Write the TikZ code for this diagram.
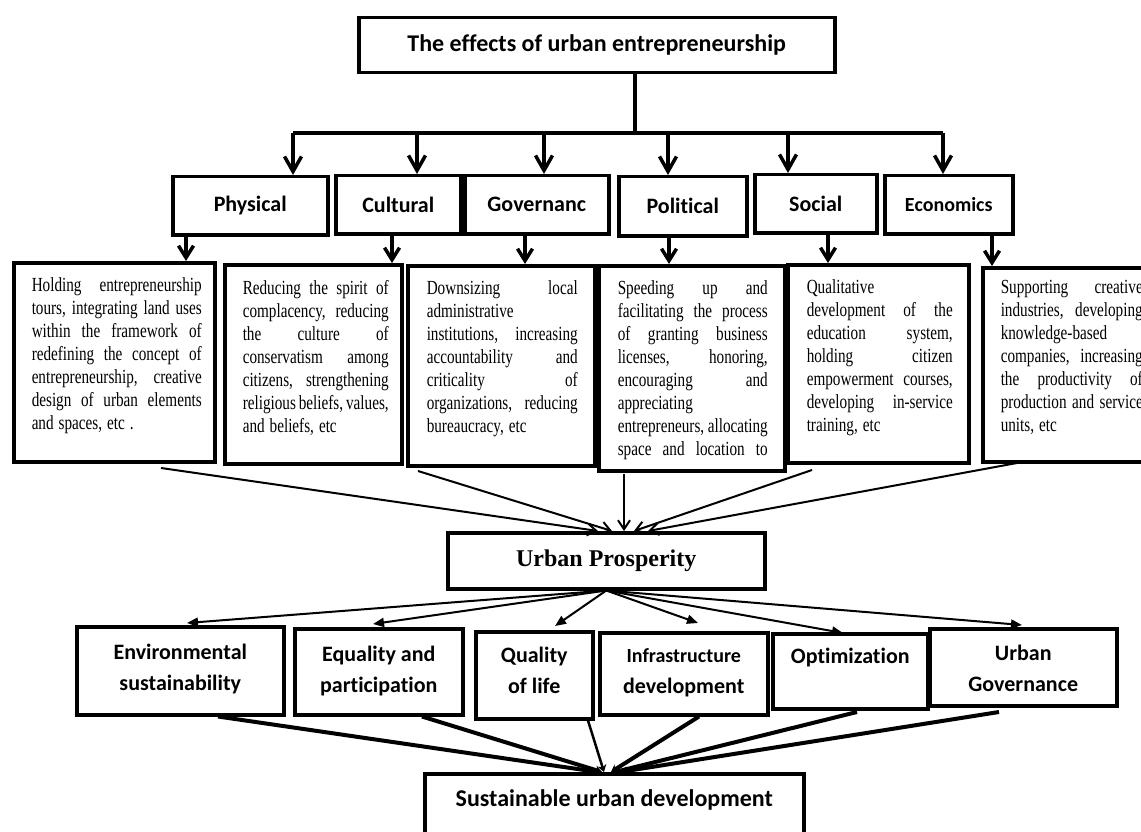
\documentclass[tikz,border=0pt]{standalone}
\usepackage{fontspec}
\usetikzlibrary{arrows.meta}
\newfontfamily\hfont[Ligatures=NoCommon]{Carlito}
\newfontfamily\dfont[FakeStretch=0.76]{Liberation Serif}
\newfontfamily\pfont{Liberation Serif}
\newdimen\dM \newdimen\dT \newdimen\bW
\newcommand\jl[1]{\moveright\dM\hbox to\dT{\vrule height15pt depth6pt width0pt\spaceskip=0.25em plus 1fil minus 0.15em\relax #1}}
\newcommand\el[1]{\moveright\dM\hbox to\dT{\vrule height15pt depth6pt width0pt\spaceskip=0.25em minus 0.1em\relax #1\hfill}}
\newcommand\cl[1]{\hbox to\bW{\hss\vrule height16pt depth6pt width0pt #1\hss}}
\newcommand\dbody[6]{\vbox to #2{\hrule height0pt depth0pt width#1\relax\dM=#4\relax\dT=#5\relax\vskip#3\relax #6\vss}}
\newcommand\cbody[4]{\vbox to #2{\hrule height0pt depth0pt width#1\relax\bW=#1\relax\vskip#3\relax #4\vss}}
\begin{document}
\begin{tikzpicture}[x=1pt,y=-1pt,
  bx/.style={draw, line width=3.5pt, inner sep=0pt, anchor=north west},
  catbox/.style={bx, font=\hfont\bfseries\fontsize{22}{26}\selectfont},
  dstyle/.style={bx, font=\dfont\fontsize{20}{23}\selectfont\frenchspacing},
  lstyle/.style={bx, font=\hfont\bfseries\fontsize{22}{31}\selectfont},
  conn/.style={line width=3.5pt},
  tarrow/.style={line width=3.5pt, -{Straight Barb[length=15pt,width=17pt]}},
  tarrowb/.style={line width=3.5pt, -{Straight Barb[length=12pt,width=15pt]}},
  parrow/.style={line width=2pt, -{Straight Barb[length=9pt,width=12pt]}},
  larrow/.style={line width=2pt, -{Triangle[length=11pt,width=9pt]}},
  sline/.style={line width=4pt, -{Stealth[length=7pt,width=9pt]}}]
\useasboundingbox (0,0) rectangle (1141,832);

% top
\node[catbox, font=\hfont\bfseries\fontsize{24}{28}\selectfont, minimum width=476pt, minimum height=55pt] (top) at (357,16) {The effects of urban entrepreneurship};

% categories
\node[catbox, minimum width=155pt, minimum height=58pt] (phys) at (171,175) {Physical};
\node[catbox, minimum width=125pt, minimum height=58pt] (cult) at (334,174) {Cultural};
\node[catbox, minimum width=144pt, minimum height=58pt] (gov) at (463,174) {Governanc};
\node[catbox, minimum width=128pt, minimum height=59pt] (pol) at (617,175) {Political};
\node[catbox, minimum width=122pt, minimum height=58pt] (soc) at (753,173) {Social};
\node[catbox, minimum width=128pt, minimum height=58pt, font=\hfont\bfseries\fontsize{20}{24}\selectfont] (eco) at (883,174) {Economics};

% detail boxes
\node[dstyle] (d1) at (12,261) {\dbody{201pt}{199pt}{14pt}{18pt}{170pt}{%
\jl{Holding entrepreneurship}
\jl{tours, integrating land uses}
\jl{within the framework of}
\jl{redefining the concept of}
\jl{entrepreneurship, creative}
\jl{design of urban elements}
\el{and spaces, etc .}}};
\node[dstyle] (d2) at (223,263) {\dbody{177pt}{199pt}{15pt}{18pt}{146pt}{%
\jl{Reducing the spirit of}
\jl{complacency, reducing}
\jl{the culture of}
\jl{conservatism among}
\jl{citizens, strengthening}
\jl{religious beliefs, values,}
\el{and beliefs, etc}}};
\node[dstyle] (d3) at (406,264) {\dbody{187pt}{200pt}{14pt}{19pt}{151pt}{%
\jl{Downsizing local}
\el{administrative}
\jl{institutions, increasing}
\jl{accountability and}
\jl{criticality of}
\jl{organizations, reducing}
\el{bureaucracy, etc}}};
\node[dstyle] (d4) at (597,264) {\dbody{186pt}{205pt}{14pt}{19pt}{150pt}{%
\jl{Speeding up and}
\jl{facilitating the process}
\jl{of granting business}
\jl{licenses, honoring,}
\jl{encouraging and}
\el{appreciating}
\jl{entrepreneurs, allocating}
\jl{space and location to}}};
\node[dstyle] (d5) at (786,263) {\dbody{181pt}{198pt}{14pt}{19pt}{146pt}{%
\el{Qualitative}
\jl{development of the}
\jl{education system,}
\jl{holding citizen}
\jl{empowerment courses,}
\jl{developing in-service}
\el{training, etc}}};
\node[dstyle] (d6) at (981,266) {\dbody{162pt}{194pt}{11pt}{18pt}{142pt}{%
\jl{Supporting creative}
\jl{industries, developing}
\el{knowledge-based}
\jl{companies, increasing}
\jl{the productivity of}
\jl{production and service}
\el{units, etc}}};

% urban prosperity
\node[bx, minimum width=317pt, minimum height=56pt, font=\pfont\bfseries\fontsize{24}{28}\selectfont] (up) at (446,531) {Urban Prosperity};

% lower boxes
\node[lstyle] (env) at (75,625) {\cbody{207pt}{88pt}{17pt}{\cl{Environmental}\cl{sustainability}}};
\node[lstyle] (equ) at (293,627) {\cbody{168pt}{86pt}{17pt}{\cl{Equality and}\cl{participation}}};
\node[lstyle] (qual) at (474,630) {\cbody{117pt}{87pt}{15pt}{\cl{Quality}\cl{of life}}};
\node[lstyle] (infra) at (598,631) {\cbody{168pt}{82pt}{14pt}{\cl{\fontsize{20}{31}\selectfont Infrastructure}\cl{development}}};
\node[lstyle] (opt) at (771,632) {\cbody{155pt}{75pt}{14pt}{\cl{Optimization}}};
\node[lstyle] (ug) at (928,627) {\cbody{187pt}{77pt}{16pt}{\cl{Urban}\cl{Governance}}};

% sustainable urban development (box runs past the lower edge)
\node[lstyle, font=\hfont\bfseries\fontsize{24}{31}\selectfont] (sud) at (423,772) {\cbody{379pt}{80pt}{16pt}{\cl{Sustainable urban development}}};

% top connectors
\coordinate (hub) at (635,133);
\coordinate (b1) at (293,133);
\coordinate (b2) at (417,133);
\coordinate (b3) at (544,133);
\coordinate (b4) at (668,133);
\coordinate (b5) at (788,133);
\coordinate (b6) at (943,133);
\draw[conn] (top.south -| hub) -- (hub);
\draw[conn] (b1) -- (b6);
\foreach \b/\n in {b1/phys, b2/cult, b3/gov, b4/pol, b5/soc, b6/eco}
  \draw[tarrow] (\b) -- (\b |- \n.north);

% category to detail
\coordinate (c1) at (186,0);
\coordinate (c2) at (392,0);
\coordinate (c3) at (525,0);
\coordinate (c4) at (669,0);
\coordinate (c5) at (828,0);
\coordinate (c6) at (992,0);
\foreach \c/\a/\d in {c1/phys/d1, c2/cult/d2, c3/gov/d3, c4/pol/d4, c5/soc/d5, c6/eco/d6}
  \draw[tarrowb] (\a.south -| \c) -- (\d.north -| \c);

% detail to urban prosperity
\coordinate (s1) at (161,468);
\coordinate (s3) at (418,471);
\coordinate (s4) at (624,474);
\coordinate (s5) at (812,470);
\coordinate (s6) at (1017,463);
\coordinate (e1) at (598,0);
\coordinate (e3) at (612,0);
\coordinate (e4) at (624,0);
\coordinate (e5) at (634,0);
\coordinate (e6) at (648,0);
\foreach \s/\e in {s1/e1, s3/e3, s4/e4, s5/e5, s6/e6}
  \draw[parrow] (\s) -- (up.north -| \e);

% urban prosperity to lower boxes
\coordinate (t1) at (187,623);
\coordinate (t2) at (373,624);
\coordinate (t3) at (555,626);
\coordinate (t4) at (698,623);
\coordinate (t5) at (843,633);
\coordinate (t6) at (1022,625);
\foreach \t in {t1,t2,t3,t4,t5,t6}
  \draw[larrow] (up.south) -- (\t);

% lower boxes to sustainable urban development
\coordinate (k1) at (218,0);
\coordinate (k2) at (422,0);
\coordinate (k3) at (588,0);
\coordinate (k4) at (699,0);
\coordinate (o5) at (857,712);
\coordinate (o6) at (999,712);
\coordinate (m1) at (598,0);
\coordinate (m2) at (602,0);
\coordinate (m3) at (604,0);
\coordinate (m4) at (611,0);
\coordinate (m5) at (615,0);
\coordinate (m6) at (620,0);
\draw[sline] (env.south -| k1) -- (sud.north -| m1);
\draw[sline] (equ.south -| k2) -- (sud.north -| m2);
\draw[sline, line width=2.5pt] (qual.south -| k3) -- (sud.north -| m3);
\draw[sline] (infra.south -| k4) -- (sud.north -| m4);
\draw[sline] (o5) -- (sud.north -| m5);
\draw[sline] (o6) -- (sud.north -| m6);
\end{tikzpicture}
\end{document}
